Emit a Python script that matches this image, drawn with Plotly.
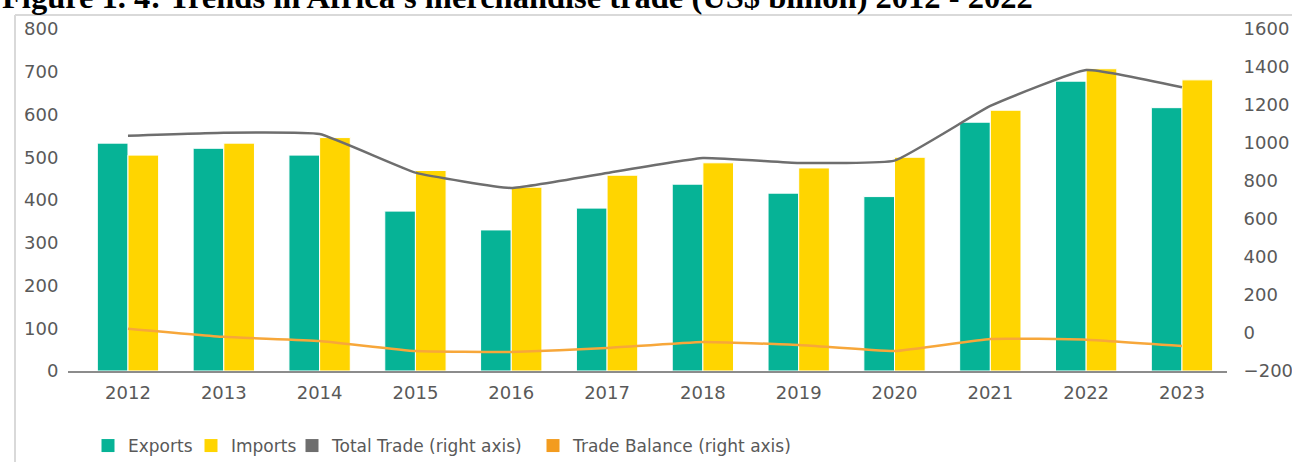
import plotly.graph_objects as go

years = ["2012", "2013", "2014", "2015", "2016", "2017", "2018", "2019", "2020", "2021", "2022", "2023"]
exports = [533, 521, 505, 374, 330, 381, 437, 416, 408, 582, 678, 616]
imports = [505, 533, 546, 469, 430, 458, 487, 475, 500, 610, 707, 681]
total_trade = [1038, 1054, 1047, 844, 763, 842, 921, 895, 907, 1195, 1384, 1293]
trade_balance = [23, -20, -42, -95, -100, -79, -47, -63, -95, -31, -35, -68]

left_ticks = [0, 100, 200, 300, 400, 500, 600, 700, 800]
right_ticks = [-200, 0, 200, 400, 600, 800, 1000, 1200, 1400, 1600]

C_EXP = "#06B396"
C_IMP = "#FFD500"
C_TOT = "#6E6E6E"
C_BAL = "#F7A73A"
TXT = "#595959"
FONT = "DejaVu Sans"

W, H = 1292, 462
ml, mr, mt, mb = 68, 65, 29, 91
pw = W - ml - mr
ph = H - mt - mb

def px_x(p):
    return (p - ml) / pw

def px_y(p):
    return (H - mb - p) / ph

fig = go.Figure()
fig.add_trace(go.Bar(x=years, y=exports, name="Exports", marker=dict(color=C_EXP, line=dict(color="white", width=1)), showlegend=False))
fig.add_trace(go.Bar(x=years, y=imports, name="Imports", marker=dict(color=C_IMP, line=dict(color="white", width=1)), showlegend=False))
fig.add_trace(go.Scatter(x=years, y=total_trade, name="Total Trade (right axis)", yaxis="y2", mode="lines",
                         line=dict(color=C_TOT, width=2.5, shape="spline", smoothing=0.35), showlegend=False))
fig.add_trace(go.Scatter(x=years, y=trade_balance, name="Trade Balance (right axis)", yaxis="y2", mode="lines",
                         line=dict(color=C_BAL, width=2.5, shape="spline", smoothing=0.35), showlegend=False))

# legend entries (square swatches), one legend each so they sit where the reference has them
legend_items = [("Exports", C_EXP, 108), ("Imports", C_IMP, 211),
                ("Total Trade (right axis)", C_TOT, 312), ("Trade Balance (right axis)", "#F39C1F", 553)]
legend_layouts = {}
for i, (nm, col, cx) in enumerate(legend_items):
    lid = "legend" if i == 0 else f"legend{i + 1}"
    fig.add_trace(go.Scatter(x=[None], y=[None], mode="markers", name=nm, yaxis="y2", legend=lid,
                             marker=dict(symbol="square", size=13, color=col)))
    legend_layouts[lid] = dict(orientation="h", x=px_x(cx - 20), xanchor="left", y=px_y(446), yanchor="middle",
                               font=dict(family=FONT, size=17, color=TXT), itemwidth=30,
                               bgcolor="rgba(0,0,0,0)", borderwidth=0)

fig.update_layout(
    width=W, height=H,
    margin=dict(l=ml, r=mr, t=mt, b=mb, pad=0, autoexpand=False),
    paper_bgcolor="white", plot_bgcolor="white",
    barmode="group", bargap=0.36, bargroupgap=0.0,
    font=dict(family=FONT, color=TXT, size=18),
    xaxis=dict(type="category", range=[-0.626, 11.47], showgrid=False, zeroline=False,
               showline=True, linecolor="#8C8C8C", linewidth=2,
               ticks="outside", ticklen=4, tickcolor="rgba(0,0,0,0)",
               tickfont=dict(family=FONT, size=18, color=TXT)),
    yaxis=dict(range=[0, 800], tickvals=left_ticks, showgrid=False, zeroline=False, showline=False,
               ticks="outside", ticklen=5, tickcolor="rgba(0,0,0,0)",
               tickfont=dict(family=FONT, size=18, color=TXT)),
    yaxis2=dict(range=[-200, 1600], tickvals=right_ticks, overlaying="y", side="right",
                showgrid=False, zeroline=False, showline=False,
                ticks="outside", ticklen=12, tickcolor="rgba(0,0,0,0)",
                tickfont=dict(family=FONT, size=18, color=TXT)),
    shapes=[
        dict(type="line", xref="paper", yref="paper", x0=px_x(15), x1=px_x(1300), y0=px_y(15), y1=px_y(15),
             line=dict(color="#D9D9D9", width=2)),
        dict(type="line", xref="paper", yref="paper", x0=px_x(15), x1=px_x(15), y0=px_y(15), y1=px_y(470),
             line=dict(color="#D9D9D9", width=2)),
    ],
    annotations=[
        dict(text="<b>Figure 1. 4: Trends in Africa's merchandise trade (US$ billion) 2012 - 2022</b>",
             xref="paper", yref="paper", x=px_x(0), y=px_y(-3), xanchor="left", yanchor="middle",
             showarrow=False, font=dict(family="Liberation Serif", size=32.5, color="black")),
    ],
)
fig.update_layout(**legend_layouts)

fig.write_html("out.html", config={"displayModeBar": False},
               post_script="document.body.style.margin='0';document.body.style.overflow='hidden';")
